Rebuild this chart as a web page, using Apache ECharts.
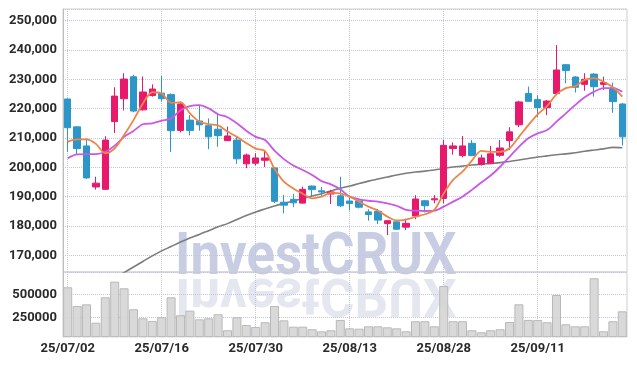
<!DOCTYPE html>
<html><head><meta charset="utf-8">
<script src="https://cdn.jsdelivr.net/npm/echarts@6/dist/echarts.min.js"></script>
<style>html,body{margin:0;padding:0;background:#fff}#c{width:637px;height:366px}</style>
</head><body><div id="c"></div>
<script>
const dates = ['25/07/02','25/07/03','25/07/04','25/07/07','25/07/08','25/07/09','25/07/10','25/07/11','25/07/14','25/07/15',
'25/07/16','25/07/17','25/07/18','25/07/21','25/07/22','25/07/23','25/07/24','25/07/25','25/07/28','25/07/29',
'25/07/30','25/07/31','25/08/01','25/08/04','25/08/05','25/08/06','25/08/07','25/08/08','25/08/11','25/08/12',
'25/08/13','25/08/14','25/08/18','25/08/19','25/08/20','25/08/21','25/08/22','25/08/25','25/08/26','25/08/27',
'25/08/28','25/08/29','25/09/01','25/09/02','25/09/03','25/09/04','25/09/05','25/09/08','25/09/09','25/09/10',
'25/09/11','25/09/12','25/09/15','25/09/16','25/09/17','25/09/18','25/09/19','25/09/22','25/09/23','25/09/24'];

const opens  = [223300,213800,207300,193300,192500,215600,223400,230900,219600,224500,
225300,224800,212600,216100,215800,214200,213000,209100,209300,201200,
201400,202400,199800,188100,189100,187800,193600,192000,190900,190300,
188500,188500,184800,185000,180800,181400,179600,183400,188600,188900,
189400,206400,204000,208200,201000,201400,204100,209100,214500,225200,
223100,220400,225200,235000,230800,228300,231800,228300,227000,221600];
const closes = [213500,206400,196400,194600,209300,224300,230100,219200,225700,226700,
223400,212500,221600,212600,214500,210400,210800,210700,202900,204200,
203200,203200,188400,187100,187900,192500,192400,191600,191600,186900,
187700,186400,183900,182000,181800,178900,180900,189200,186900,189300,
207500,207300,207300,204000,203200,204600,206600,212100,222300,222500,
220400,222600,233200,233000,227300,230000,227500,228900,222400,210400];
const lows   = [205300,204200,196000,192400,192300,211700,219400,218800,219400,224100,
222400,205200,211900,210900,212500,206200,207000,209000,201200,199700,
200600,200100,187800,184300,186400,187600,189900,190200,187500,186400,
185300,186000,181800,180700,176900,178700,178600,182300,184600,187700,
187700,204300,203400,203800,200600,201100,203600,205900,213700,222400,
217100,217800,224700,228700,225500,226100,224100,226400,218600,207500];
const highs  = [223500,214000,209800,196800,210600,227300,232100,231600,231000,228300,
231100,225200,221900,217800,221200,216700,218400,213900,210400,204700,
204800,205900,199900,190600,191000,193400,193800,193300,192300,196800,
190000,189400,185700,185800,181900,181500,182500,190500,188800,190500,
209300,208500,210700,209300,204300,207300,209300,213700,222700,227500,
224600,223000,241700,235200,231100,232100,232100,230900,228900,222000];

const ma5 = [208700,209500,209500,208000,204800,206500,211000,216100,221800,225600,
225200,222000,222200,218400,215600,214700,214300,212200,210400,208300,
206400,205500,199500,195100,192800,191000,189400,190000,191300,191100,
190000,188300,186600,185200,183200,181900,182200,183100,184000,185500,
191100,195700,198500,202300,205600,205300,205300,206500,210400,214400,
218100,220900,224900,227000,227700,229800,230400,229200,227300,224100];
const ma10 = [203100,204400,204500,204500,205300,207400,210400,212400,214700,215000,
215900,216700,219500,220900,221200,220100,218100,217100,215000,212500,
210400,209300,205700,202800,200600,199100,197400,195300,194200,192500,
190000,189100,188600,188300,187700,186900,185500,185200,185100,185200,
186600,188300,190000,192300,194800,197200,200200,203600,207000,209900,
211600,212700,215600,218400,221300,223900,225800,227000,227000,225800];
const maLong = [152000,154200,156300,158300,160300,162200,164100,166000,167900,169800,
171500,173000,174500,175900,177100,178400,179700,180800,182200,183600,
184800,185800,186800,187700,188500,189400,190200,191000,191900,192900,
193600,194500,195300,196000,196700,197400,198000,198400,198700,199100,
199600,200100,200400,200800,201100,201300,201600,202000,202500,203000,
203500,203900,204300,204600,205000,205500,205900,206300,206800,206700];
const volumes = [576000,373000,391000,191000,467000,637000,565000,337000,239000,210000,
250000,467000,272000,322000,228000,239000,283000,109000,250000,166000,
145000,196000,373000,217000,148000,148000,120000,97000,109000,221000,
130000,126000,152000,152000,141000,130000,98000,207000,207000,152000,
590000,207000,207000,109000,87000,109000,120000,199000,391000,221000,
221000,196000,492000,174000,152000,152000,674000,98000,207000,315000];

const FONT = "Roboto, 'DejaVu Sans Condensed', sans-serif";
const candleData = dates.map((d, i) => [opens[i], closes[i], lows[i], highs[i]]);
const gridLine = {show: true, lineStyle: {type: 'dotted', color: '#c3c6da', width: 1}};
const vSplit = {show: true, interval: 9, alignWithLabel: true, lineStyle: {type: 'dotted', color: '#c3c6da', width: 1}};
const labelStyle = {fontFamily: FONT, fontSize: 13, fontWeight: 'bold', color: '#2a2a2a'};
const WM_BASE = 276, WM_B = 47;

const chart = echarts.init(document.getElementById('c'), null, {renderer: 'canvas'});
chart.setOption({
  animation: false,
  backgroundColor: '#fff',
  graphic: [
    {type: 'text', x: 175, y: WM_BASE, scaleX: 0.88, z: -10, silent: true,
     style: {text: 'InvestCRUX', x: 0, y: -WM_B, verticalAlign: 'top', font: 'bold 60px ' + FONT, fill: '#c8cde3'}},
    {type: 'text', x: 175, y: WM_BASE + 1, scaleX: 0.88, scaleY: -0.88, z: -10, silent: true,
     style: {text: 'InvestCRUX', x: 0, y: -WM_B, verticalAlign: 'top', font: 'bold 60px ' + FONT, fill: '#e4e6f0'}}
  ],
  grid: [
    {left: 63, right: 10, top: 9, height: 263, show: true, borderColor: '#cfcfcf', borderWidth: 1},
    {left: 63, right: 10, top: 272, height: 64.7, show: true, borderColor: '#cfcfcf', borderWidth: 1}
  ],
  xAxis: [
    {type: 'category', gridIndex: 0, data: dates, boundaryGap: true,
     axisLine: {show: false}, axisTick: {show: false}, axisLabel: {show: false}, splitLine: vSplit},
    {type: 'category', gridIndex: 1, data: dates, boundaryGap: true,
     axisLine: {show: true, lineStyle: {color: '#cfcfcf'}}, axisTick: {show: false},
     axisLabel: Object.assign({interval: 9, margin: 6}, labelStyle), splitLine: vSplit}
  ],
  yAxis: [
    {type: 'value', gridIndex: 0, scale: true, min: 164300, max: 254000, minInterval: 10000, maxInterval: 10000,
     axisLine: {show: true, lineStyle: {color: '#bdbdbd'}}, axisTick: {show: false},
     axisLabel: Object.assign({showMinLabel: false, showMaxLabel: false, margin: 6,
       formatter: v => Number(v).toLocaleString('en-US')}, labelStyle),
     splitLine: gridLine},
    {type: 'value', gridIndex: 1, scale: true, min: 39000, max: 742000, minInterval: 250000, maxInterval: 250000,
     axisLine: {show: true, lineStyle: {color: '#bdbdbd'}}, axisTick: {show: false},
     axisLabel: Object.assign({showMinLabel: false, showMaxLabel: false, margin: 6,
       formatter: v => String(v)}, labelStyle),
     splitLine: gridLine}
  ],
  series: [
    {type: 'candlestick', xAxisIndex: 0, yAxisIndex: 0, data: candleData, barWidth: 7, z: 3,
     itemStyle: {color: '#e8196b', color0: '#2c96c9', borderColor: '#e8196b', borderColor0: '#2c96c9', borderWidth: 1}},
    {type: 'line', xAxisIndex: 0, yAxisIndex: 0, data: maLong, symbol: 'none', smooth: 0.3, z: 2,
     lineStyle: {color: '#7c7c7c', width: 1.6}},
    {type: 'line', xAxisIndex: 0, yAxisIndex: 0, data: ma10, symbol: 'none', smooth: 0.3, z: 4,
     lineStyle: {color: '#c957e8', width: 1.8}},
    {type: 'line', xAxisIndex: 0, yAxisIndex: 0, data: ma5, symbol: 'none', smooth: 0.3, z: 5,
     lineStyle: {color: '#ee8448', width: 1.8}},
    {type: 'bar', xAxisIndex: 1, yAxisIndex: 1, data: volumes, barCategoryGap: '4%',
     itemStyle: {color: 'rgba(214,214,214,0.92)', borderColor: '#b9b9b9', borderWidth: 1}}
  ]
});
</script></body></html>
